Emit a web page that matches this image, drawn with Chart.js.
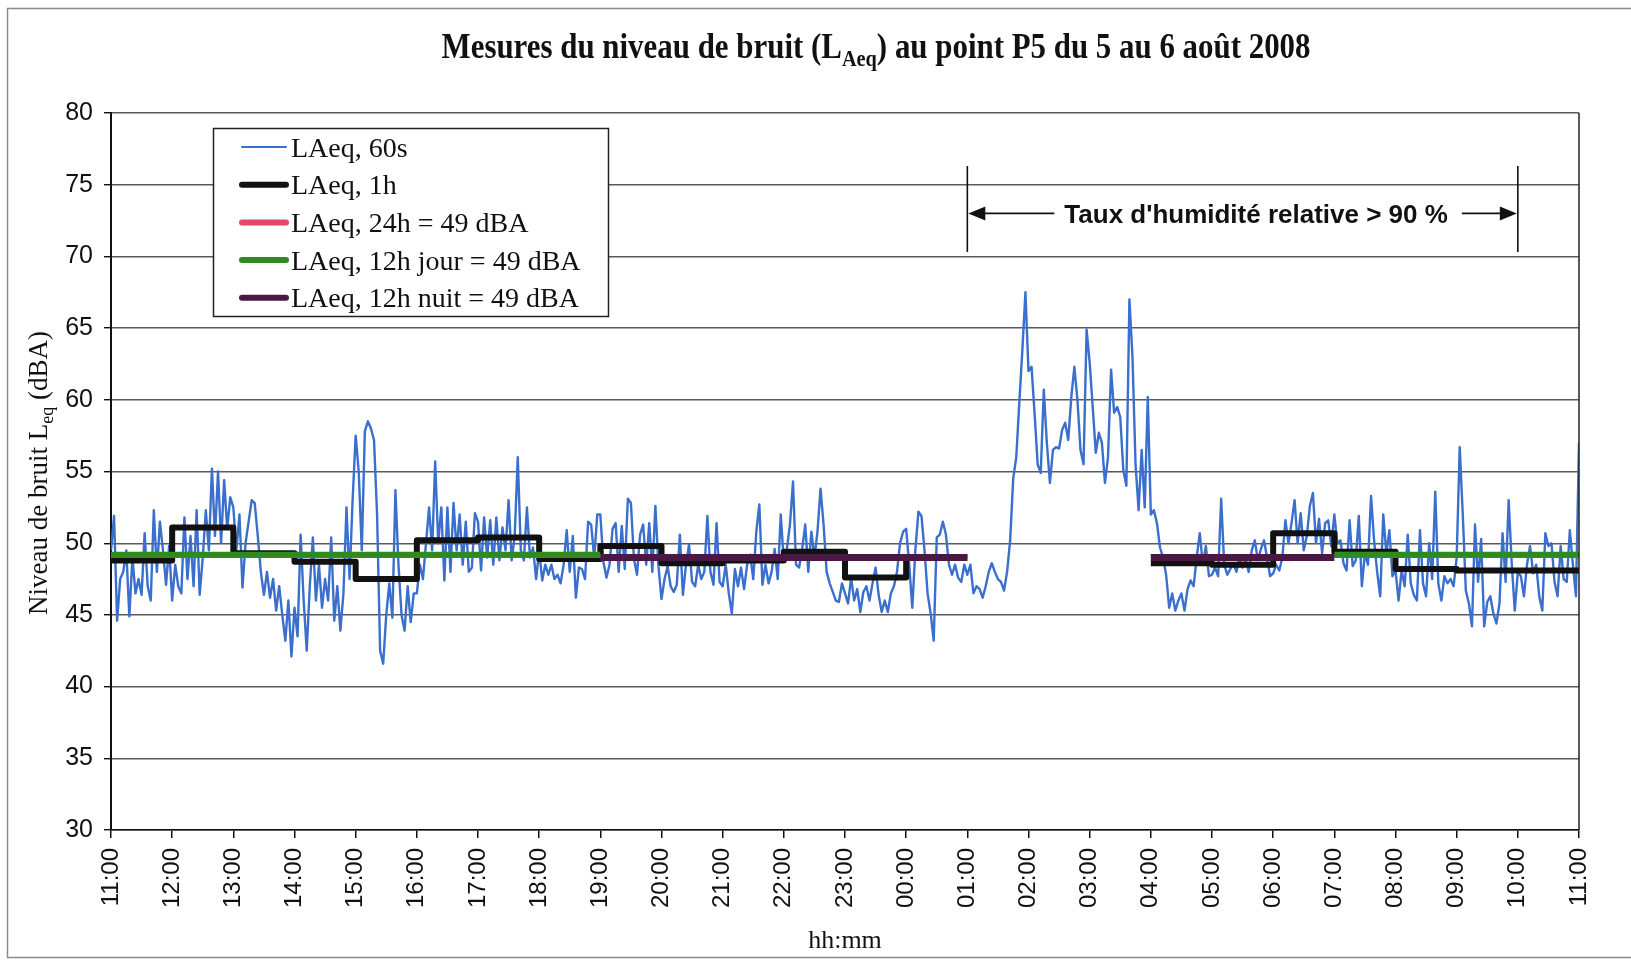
<!DOCTYPE html>
<html>
<head>
<meta charset="utf-8">
<title>Mesures du niveau de bruit au point P5</title>
<script src="https://cdn.jsdelivr.net/npm/chart.js@4.4.1/dist/chart.umd.min.js"></script>
<style>
  html, body { margin: 0; padding: 0; background: #fff; }
  #wrap { width: 1631px; height: 960px; position: relative; }
</style>
</head>
<body>
<div id="wrap"><canvas id="chart" width="1631" height="960"></canvas></div>
<script>
// x axis: minutes since 11:00 on 5 Aug; one label per hour
const TIME_LABELS = ["11:00", "12:00", "13:00", "14:00", "15:00", "16:00", "17:00", "18:00",
    "19:00", "20:00", "21:00", "22:00", "23:00", "00:00", "01:00", "02:00", "03:00", "04:00",
    "05:00", "06:00", "07:00", "08:00", "09:00", "10:00", "11:00"];

// LAeq 60s, every 3 minutes (one row per hour)
const STEP_MINUTES = 3;
const LAEQ_60S = [
    49.5, 51.9, 44.6, 47.5, 48.0, 49.5, 44.9, 49.0, 46.5, 47.5, 46.4, 50.7, 47.0, 46.0, 52.3, 48.0, 51.5, 49.5, 47.1, 49.8, // 11h
    46.0, 48.5, 47.0, 46.5, 51.8, 47.5, 50.5, 47.0, 52.3, 46.4, 49.0, 52.3, 49.5, 55.2, 50.5, 55.0, 50.0, 54.4, 51.0, 53.2, // 12h
    52.5, 49.5, 52.0, 46.9, 50.0, 51.5, 53.0, 52.8, 50.5, 48.0, 46.4, 48.0, 46.2, 47.5, 45.3, 47.0, 45.0, 43.2, 46.0, 42.1, // 13h
    45.5, 43.5, 50.6, 46.0, 42.5, 47.0, 50.4, 46.0, 48.5, 45.5, 47.5, 46.0, 50.4, 44.6, 47.0, 43.9, 46.5, 52.5, 47.5, 53.0, // 14h
    57.5, 55.0, 49.5, 57.8, 58.5, 58.0, 57.2, 52.0, 42.5, 41.6, 45.0, 47.2, 44.8, 53.7, 48.5, 45.0, 43.9, 47.0, 44.5, 46.5, // 15h
    46.5, 48.5, 47.5, 50.0, 52.5, 49.5, 55.7, 50.0, 52.5, 47.4, 52.5, 48.0, 52.8, 49.5, 52.0, 48.5, 51.5, 48.0, 48.3, 52.1, // 16h
    51.5, 48.1, 51.8, 49.0, 51.6, 48.5, 51.8, 48.8, 51.1, 49.5, 53.0, 48.8, 50.5, 56.0, 49.5, 48.8, 52.5, 49.0, 49.7, 47.5, // 17h
    49.5, 47.4, 48.5, 47.8, 48.5, 47.5, 47.8, 47.2, 48.5, 50.9, 48.0, 50.5, 46.2, 48.3, 48.2, 47.5, 51.5, 51.3, 49.0, 52.0, // 18h
    52.0, 48.7, 47.6, 48.5, 51.0, 51.4, 48.0, 51.2, 48.2, 53.1, 52.8, 48.9, 47.8, 50.6, 51.3, 48.5, 51.4, 48.0, 52.6, 48.4, // 19h
    46.1, 47.5, 48.4, 47.0, 46.6, 47.1, 50.6, 46.4, 48.5, 49.9, 47.3, 47.0, 48.5, 47.5, 48.0, 51.9, 48.0, 47.1, 51.4, 47.3, // 20h
    47.0, 48.5, 46.5, 45.1, 48.2, 47.0, 48.3, 46.8, 48.5, 49.2, 47.5, 50.8, 52.7, 47.1, 48.5, 47.2, 48.0, 49.6, 47.5, 52.0, // 21h
    48.7, 49.6, 51.3, 54.3, 48.5, 48.3, 49.6, 51.3, 48.0, 50.8, 49.0, 50.8, 53.8, 51.3, 48.0, 47.2, 46.6, 46.0, 45.9, 47.2, // 22h
    46.5, 45.8, 47.6, 46.0, 46.8, 45.2, 46.6, 47.0, 46.0, 47.2, 48.3, 46.4, 45.2, 46.0, 45.2, 46.5, 47.0, 48.0, 50.0, 50.8, // 23h
    51.0, 48.5, 45.5, 49.5, 52.2, 51.9, 49.5, 46.5, 45.1, 43.2, 50.4, 50.6, 51.5, 50.6, 48.5, 47.8, 48.5, 47.6, 47.3, 48.5, // 00h
    47.8, 48.5, 46.5, 47.0, 46.8, 46.2, 47.0, 48.0, 48.6, 48.0, 47.5, 47.3, 46.7, 48.0, 50.2, 54.5, 56.0, 59.8, 63.5, 67.5, // 01h
    62.0, 62.3, 59.0, 55.5, 54.9, 60.7, 57.0, 54.2, 56.5, 56.7, 56.6, 57.9, 58.4, 57.2, 60.2, 62.3, 60.0, 56.5, 55.5, 64.9, // 02h
    62.6, 59.5, 56.3, 57.7, 57.0, 54.2, 56.0, 62.1, 59.1, 59.5, 58.8, 55.1, 54.0, 67.0, 63.0, 55.5, 52.3, 56.5, 52.5, 60.2, // 03h
    52.0, 52.3, 51.4, 49.7, 49.0, 47.8, 45.5, 46.5, 45.3, 46.0, 46.5, 45.3, 46.8, 47.4, 47.0, 49.0, 50.7, 48.5, 49.8, 47.7, // 04h
    47.8, 48.3, 47.7, 53.1, 48.5, 47.8, 48.2, 48.6, 48.0, 49.1, 48.3, 48.9, 48.0, 49.5, 50.2, 48.8, 49.6, 50.2, 49.0, 47.7, // 05h
    47.9, 48.5, 48.1, 49.0, 51.6, 50.0, 51.4, 53.0, 50.0, 52.1, 49.5, 50.5, 52.6, 53.5, 50.0, 51.7, 49.3, 51.4, 51.6, 49.8, // 06h
    52.0, 50.0, 50.2, 48.6, 48.1, 51.6, 48.4, 48.8, 51.9, 47.0, 49.3, 48.5, 53.3, 50.2, 48.0, 46.3, 52.0, 49.3, 50.9, 47.7, // 07h
    48.1, 46.0, 48.1, 47.0, 50.6, 47.2, 46.4, 46.0, 50.9, 47.2, 46.3, 50.0, 47.5, 53.6, 47.2, 46.0, 47.7, 47.2, 47.5, 47.0, // 08h
    49.0, 56.7, 52.0, 46.7, 45.8, 44.2, 51.3, 47.3, 50.3, 44.2, 45.9, 46.3, 45.1, 44.4, 45.8, 50.7, 47.3, 53.0, 48.6, 45.3, // 09h
    48.0, 47.7, 46.3, 48.5, 49.8, 47.9, 48.5, 46.3, 45.3, 50.7, 49.8, 50.0, 47.3, 46.3, 49.8, 47.5, 47.3, 50.9, 48.5, 46.3, // 10h
    57.0
];

// LAeq 1h, one value per hour starting 11:00 (no value 01:00-04:00)
const LAEQ_1H = [48.8, 51.1, 49.3, 48.7, 47.5, 50.2, 50.4, 48.9, 49.8, 48.6, 48.8, 49.4,
    47.6, 49.0, null, null, null, 48.6, 48.5, 50.7, 49.4, 48.2, 48.1, 48.1];
// true = day period (07:00-19:00), false = night period (19:00-07:00)
const IS_DAY = [true, true, true, true, true, true, true, true,
    false, false, false, false, false, false, false, false, false, false, false, false,
    true, true, true, true];

const LAEQ_24H = 49.1;
const LAEQ_JOUR = 49.2;
const LAEQ_NUIT = 49.0;

// relative humidity > 90 % from 01:00 to 10:00 (minutes since 11:00)
const HUMID_START = 14 * 60;
const HUMID_END = 23 * 60;

const BLUE = "#3a6fcd";
const PINK = "#e4476c";
const GREEN = "#2f8a1f";
const PURPLE = "#4b1846";

function minutePoints(values) {
    return values.map((v, i) => ({ x: i * STEP_MINUTES, y: v }));
}

// hourly steps, with a break where the hour has no value or is filtered out
function hourSteps(test, level) {
    const pts = [];
    LAEQ_1H.forEach((v, h) => {
        if (v === null || !test(h)) {
            pts.push({ x: h * 60 + 30, y: null });
        } else {
            const y = level === undefined ? v : level;
            pts.push({ x: h * 60, y: y });
            pts.push({ x: (h + 1) * 60, y: y });
        }
    });
    return pts;
}

const serif = "'Liberation Serif', 'Times New Roman', serif";
const sans = "'Liberation Sans', Arial, sans-serif";

function drawParts(ctx, parts, x, y, mainFont, subFont, subDrop) {
    let total = 0;
    parts.forEach(p => {
        ctx.font = p.sub ? subFont : mainFont;
        p.w = ctx.measureText(p.t).width;
        total += p.w;
    });
    let cx = x - total / 2;
    ctx.textAlign = "left";
    ctx.textBaseline = "alphabetic";
    parts.forEach(p => {
        ctx.font = p.sub ? subFont : mainFont;
        ctx.fillText(p.t, cx, p.sub ? y + subDrop : y);
        cx += p.w;
    });
    return total;
}

function arrowHead(ctx, tipX, y, dir) {
    ctx.beginPath();
    ctx.moveTo(tipX, y);
    ctx.lineTo(tipX - dir * 17, y - 7);
    ctx.lineTo(tipX - dir * 17, y + 7);
    ctx.closePath();
    ctx.fill();
}

const decorations = {
    id: "decorations",
    afterDraw(chart) {
        const ctx = chart.ctx;
        const area = chart.chartArea;
        const xs = chart.scales.x;
        const ys = chart.scales.y;
        ctx.save();

        // outer frame of the figure
        ctx.strokeStyle = "#8a8a8a";
        ctx.lineWidth = 1.5;
        ctx.beginPath();
        ctx.moveTo(1631, 8.5);
        ctx.lineTo(7.5, 8.5);
        ctx.lineTo(7.5, 957.5);
        ctx.lineTo(1631, 957.5);
        ctx.stroke();

        // right edge of the plot area
        ctx.strokeStyle = "#222";
        ctx.lineWidth = 1.5;
        ctx.beginPath();
        ctx.moveTo(area.right, area.top);
        ctx.lineTo(area.right, area.bottom);
        ctx.stroke();

        ctx.fillStyle = "#111";

        // title with subscript, squeezed to the width of the scan
        const titleParts = [
            { t: "Mesures du niveau de bruit (L" },
            { t: "Aeq", sub: true },
            { t: ") au point P5 du 5 au 6 août 2008" }
        ];
        ctx.save();
        const tf = "bold 35px " + serif, tsf = "bold 23px " + serif;
        let tw = 0;
        titleParts.forEach(p => { ctx.font = p.sub ? tsf : tf; tw += ctx.measureText(p.t).width; });
        const sx = 869 / tw;
        ctx.translate(876, 58);
        ctx.scale(sx, 1);
        drawParts(ctx, titleParts, 0, 0, tf, tsf, 8);
        ctx.restore();

        // y axis title
        ctx.save();
        ctx.translate(47, 473);
        ctx.rotate(-Math.PI / 2);
        drawParts(ctx, [
            { t: "Niveau de bruit L" },
            { t: "eq", sub: true },
            { t: " (dBA)" }
        ], 0, 0, "27px " + serif, "18px " + serif, 6);
        ctx.restore();

        // legend box
        ctx.fillStyle = "#fff";
        ctx.fillRect(213, 128, 396, 189);
        ctx.strokeStyle = "#222";
        ctx.lineWidth = 1.5;
        ctx.strokeRect(213.5, 128.5, 395, 188);
        chart.data.datasets.forEach((ds, i) => {
            const y = 147 + i * 37.7;
            ctx.strokeStyle = ds.borderColor;
            ctx.lineWidth = i === 0 ? 2 : 6;
            ctx.lineCap = "round";
            ctx.beginPath();
            ctx.moveTo(242, y);
            ctx.lineTo(286, y);
            ctx.stroke();
            ctx.fillStyle = "#111";
            ctx.font = "28px " + serif;
            ctx.textAlign = "left";
            ctx.textBaseline = "alphabetic";
            ctx.fillText(ds.label, 291, y + 9.5);
        });

        // humidity annotation
        const xl = xs.getPixelForValue(HUMID_START);
        const xr = xs.getPixelForValue(HUMID_END);
        const yTop = ys.getPixelForValue(76.3);
        const yBot = ys.getPixelForValue(70.3);
        const ya = ys.getPixelForValue(73.0);
        ctx.strokeStyle = "#111";
        ctx.fillStyle = "#111";
        ctx.lineWidth = 1.6;
        ctx.lineCap = "butt";
        ctx.beginPath();
        ctx.moveTo(xl, yTop); ctx.lineTo(xl, yBot);
        ctx.moveTo(xr, yTop); ctx.lineTo(xr, yBot);
        ctx.stroke();
        ctx.font = "bold 26px " + sans;
        const label = "Taux d'humidité relative > 90 %";
        const lw = ctx.measureText(label).width;
        const textLeft = xl + 97;
        ctx.textAlign = "left";
        ctx.textBaseline = "alphabetic";
        ctx.fillText(label, textLeft, ya + 10);
        ctx.beginPath();
        ctx.moveTo(xl + 10, ya); ctx.lineTo(textLeft - 10, ya);
        ctx.moveTo(textLeft + lw + 14, ya); ctx.lineTo(xr - 10, ya);
        ctx.stroke();
        arrowHead(ctx, xl + 1, ya, -1);
        arrowHead(ctx, xr - 1, ya, 1);

        ctx.restore();
    }
};

new Chart(document.getElementById("chart"), {
    type: "line",
    data: {
        datasets: [
            {
                label: "LAeq, 60s",
                data: minutePoints(LAEQ_60S),
                borderColor: BLUE,
                borderWidth: 2.4,
                order: 5
            },
            {
                label: "LAeq, 1h",
                data: hourSteps(() => true),
                borderColor: "#111",
                borderWidth: 6,
                order: 4
            },
            {
                label: "LAeq, 24h = 49 dBA",
                data: hourSteps(() => true, LAEQ_24H),
                borderColor: PINK,
                borderWidth: 4,
                order: 3
            },
            {
                label: "LAeq, 12h jour = 49 dBA",
                data: hourSteps(h => IS_DAY[h], LAEQ_JOUR),
                borderColor: GREEN,
                borderWidth: 6,
                order: 2
            },
            {
                label: "LAeq, 12h nuit = 49 dBA",
                data: hourSteps(h => !IS_DAY[h], LAEQ_NUIT),
                borderColor: PURPLE,
                borderWidth: 7,
                order: 1
            }
        ]
    },
    options: {
        responsive: false,
        animation: false,
        spanGaps: false,
        elements: {
            point: { radius: 0 },
            line: { tension: 0, borderJoinStyle: "round", borderCapStyle: "butt" }
        },
        layout: { padding: { top: 113, right: 52, left: 0, bottom: 0 } },
        plugins: {
            legend: { display: false },
            tooltip: { enabled: false },
            title: { display: false }
        },
        scales: {
            x: {
                type: "linear",
                min: 0,
                max: 24 * 60,
                afterFit: (scale) => { scale.height = 130; },
                ticks: {
                    stepSize: 60,
                    autoSkip: false,
                    maxRotation: 90,
                    minRotation: 90,
                    padding: 10,
                    color: "#111",
                    font: { family: sans, size: 24 },
                    callback: (v) => TIME_LABELS[Math.round(v / 60)]
                },
                grid: { drawOnChartArea: false, tickLength: 8, color: "#111", lineWidth: 1.5 },
                border: { color: "#111", width: 1.5 },
                title: {
                    display: true,
                    text: "hh:mm",
                    color: "#111",
                    font: { family: serif, size: 26 },
                    padding: { top: 0, bottom: 3 }
                }
            },
            y: {
                min: 30,
                max: 80,
                afterFit: (scale) => { scale.width = 111; },
                ticks: {
                    stepSize: 5,
                    padding: 11,
                    color: "#111",
                    font: { family: sans, size: 25 }
                },
                grid: { color: "#5a5a5a", lineWidth: 1.4, tickLength: 7, tickColor: "#111" },
                border: { color: "#111", width: 2 }
            }
        }
    },
    plugins: [decorations]
});
</script>
</body>
</html>
